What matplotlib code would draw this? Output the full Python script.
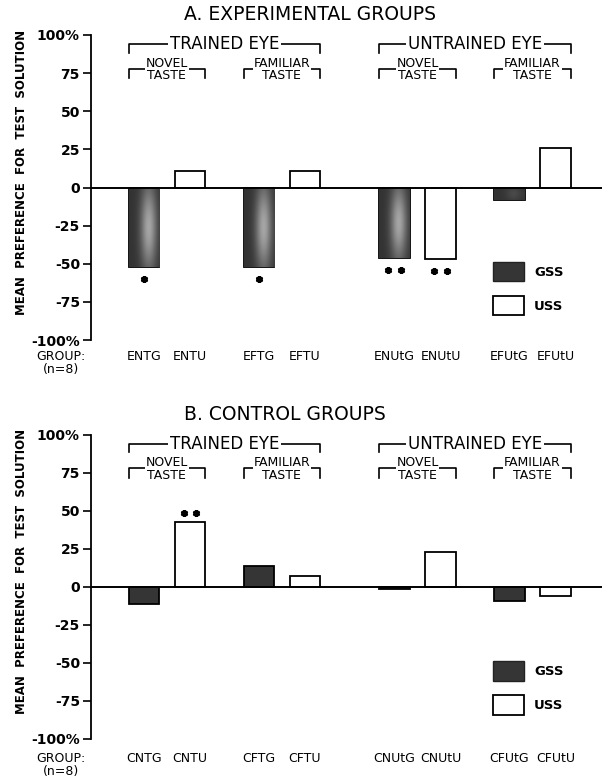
import numpy as np
import matplotlib
matplotlib.use("Agg")
import matplotlib.pyplot as plt
from matplotlib.patches import Patch

# ---------------- data ----------------
groups_a = ["ENTG", "ENTU", "EFTG", "EFTU", "ENUtG", "ENUtU", "EFUtG", "EFUtU"]
values_a = [-52, 11, -52, 11, -46, -47, -8, 26]
stars_a = [1, 0, 1, 0, 2, 2, 0, 0]

groups_b = ["CNTG", "CNTU", "CFTG", "CFTU", "CNUtG", "CNUtU", "CFUtG", "CFUtU"]
values_b = [-11, 43, 14, 7, -1, 23, -9, -6]
stars_b = [0, 2, 0, 0, 0, 0, 0, 0]

solution = ["GSS", "USS", "GSS", "USS", "GSS", "USS", "GSS", "USS"]
positions = [0, 1, 2.5, 3.5, 5.45, 6.45, 7.95, 8.95]
yticks = [100, 75, 50, 25, 0, -25, -50, -75, -100]
ytick_labels = ["100%", "75", "50", "25", "0", "-25", "-50", "-75", "-100%"]
eye_labels = ["TRAINED EYE", "UNTRAINED EYE"]
taste_labels = ["NOVEL\nTASTE", "FAMILIAR\nTASTE"]
titles = ["A. EXPERIMENTAL GROUPS", "B. CONTROL GROUPS"]
ylabel = "MEAN  PREFERENCE  FOR  TEST  SOLUTION"

plt.rcParams["font.family"] = ["DejaVu Sans"]

W, H = 602, 784
fig = plt.figure(figsize=(W / 100, H / 100), dpi=100)

BAR_W = 0.66
XMIN, XMAX = -1.15, 9.96


def shade_bar(ax, bar):
    x0, y0 = bar.get_x(), bar.get_y()
    w, h = bar.get_width(), bar.get_height()
    amp = 0.45 * min(1.0, abs(h) / 40.0)
    u = np.linspace(0, 1, 60)
    v = np.linspace(0, 1, 120)
    fx = np.exp(-((u - 0.64) / 0.27) ** 2)
    fy = np.exp(-((v - 0.5) / 0.55) ** 2)
    img = 0.2 + amp * fy[:, None] * fx[None, :]
    im = ax.imshow(img, cmap="gray", vmin=0, vmax=1,
                   extent=(x0, x0 + w, min(y0, y0 + h), max(y0, y0 + h)),
                   aspect="auto", interpolation="bilinear",
                   zorder=bar.get_zorder() + 0.1)
    im.set_clip_path(bar)


def panel(ax, groups, values, stars, title, gradient, label_pad):
    colors = ["#353535" if s == "GSS" else "white" for s in solution]
    bars = ax.bar(positions, values, width=BAR_W, color=colors,
                  edgecolor="black", linewidth=1.3, zorder=3)
    if gradient:
        for b, s in zip(bars, solution):
            if s == "GSS":
                shade_bar(ax, b)
    ax.axhline(0, color="black", lw=1.4, zorder=4)

    # significance asterisks
    for x, v, n in zip(positions, values, stars):
        if n == 0:
            continue
        y = v - 8 if v < 0 else v + 6
        offs = [0] if n == 1 else [-0.135, 0.135]
        ax.plot([x + o for o in offs], [y] * len(offs), linestyle="none",
                marker=(6, 2, 0), markersize=5, mew=1.8, color="black",
                zorder=5)

    # brackets
    left = [p - BAR_W / 2 for p in positions]
    right = [p + BAR_W / 2 for p in positions]
    for k, lab in enumerate(eye_labels):
        x0, x1 = left[4 * k], right[4 * k + 3]
        ax.plot([x0, x0, x1, x1], [88.5, 94, 94, 88.5], color="black",
                lw=1.2, zorder=2)
        ax.text((x0 + x1) / 2, 94, lab, ha="center", va="center",
                fontsize=12, zorder=6,
                bbox=dict(facecolor="white", edgecolor="none", pad=1.5))
    for k in range(4):
        x0, x1 = left[2 * k], right[2 * k + 1]
        ax.plot([x0, x0, x1, x1], [71.5, 78, 78, 71.5], color="black",
                lw=1.2, zorder=2)
        ax.text((x0 + x1) / 2, 77.5, taste_labels[k % 2], ha="center",
                va="center", fontsize=9, linespacing=0.95, zorder=6,
                bbox=dict(facecolor="white", edgecolor="none", pad=0.5))

    ax.set_xlim(XMIN, XMAX)
    ax.set_ylim(-100, 100)
    for s in ["top", "right", "bottom"]:
        ax.spines[s].set_visible(False)
    ax.spines["left"].set_linewidth(1.3)
    ax.set_yticks(yticks)
    ax.set_yticklabels(ytick_labels, fontsize=10, fontweight="bold")
    ax.tick_params(axis="y", direction="out", length=6, width=1.2, pad=2)
    ax.set_xticks(positions)
    ax.set_xticklabels(groups, fontsize=9)
    ax.tick_params(axis="x", length=0, pad=label_pad)

    ax.annotate("GROUP:\n(n=8)", xy=(-0.058, 0), xycoords="axes fraction",
                xytext=(0, -label_pad), textcoords="offset points",
                ha="center", va="top", fontsize=9, linespacing=1.05)
    ax.text(-0.136, 0.55, ylabel, transform=ax.transAxes, rotation=90,
            ha="center", va="center", fontsize=8.5, fontweight="bold")
    ax.text(0.182, 1.035, title, transform=ax.transAxes, ha="left",
            va="bottom", fontsize=13.5)

    ax.legend(handles=[Patch(facecolor="#353535", edgecolor="#222222"),
                       Patch(facecolor="white", edgecolor="black",
                             linewidth=1.3)],
              labels=["GSS", "USS"], loc="upper left",
              bbox_to_anchor=(0.787, 0.2555), frameon=False,
              borderpad=0, borderaxespad=0, handlelength=2.35,
              handleheight=1.86, handletextpad=0.76, labelspacing=1.13,
              prop={"size": 9.5, "weight": "bold"})


ax_a = fig.add_axes([91 / W, 1 - 340 / H, 1 - 91 / W, (340 - 35) / H])
ax_b = fig.add_axes([91 / W, 1 - 739 / H, 1 - 91 / W, (739 - 435) / H])

panel(ax_a, groups_a, values_a, stars_a, titles[0], True, 7)
panel(ax_b, groups_b, values_b, stars_b, titles[1], False, 9)

fig.savefig("out.png", dpi=100)
